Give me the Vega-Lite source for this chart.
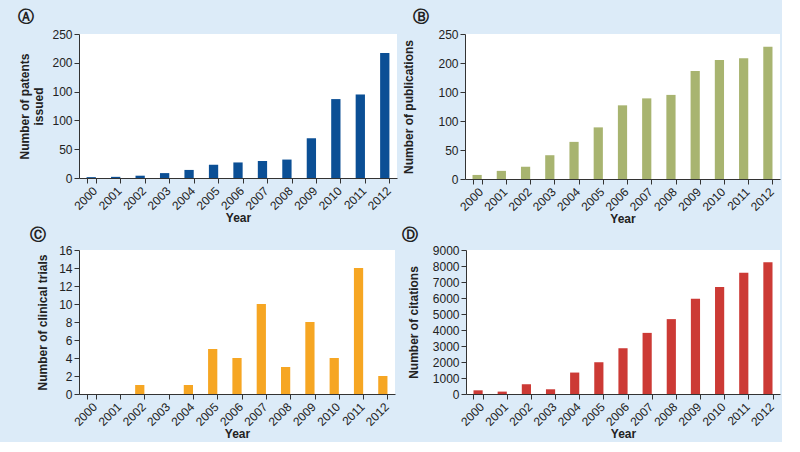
{
  "$schema": "https://vega.github.io/schema/vega-lite/v6.json",
  "background": "#dcebf8",
  "padding": {"left": 18, "top": 9, "right": 2, "bottom": 2},
  "datasets": {
    "patents": [
      {"year": "2000", "value": 1.5}, {"year": "2001", "value": 2}, {"year": "2002", "value": 4},
      {"year": "2003", "value": 8.5}, {"year": "2004", "value": 14}, {"year": "2005", "value": 23},
      {"year": "2006", "value": 27}, {"year": "2007", "value": 29.5}, {"year": "2008", "value": 32},
      {"year": "2009", "value": 69}, {"year": "2010", "value": 137}, {"year": "2011", "value": 145},
      {"year": "2012", "value": 217}
    ],
    "publications": [
      {"year": "2000", "value": 7}, {"year": "2001", "value": 14}, {"year": "2002", "value": 21},
      {"year": "2003", "value": 41}, {"year": "2004", "value": 64}, {"year": "2005", "value": 89},
      {"year": "2006", "value": 127}, {"year": "2007", "value": 139}, {"year": "2008", "value": 145},
      {"year": "2009", "value": 186}, {"year": "2010", "value": 205}, {"year": "2011", "value": 208},
      {"year": "2012", "value": 228}
    ],
    "trials": [
      {"year": "2000", "value": 0}, {"year": "2001", "value": 0}, {"year": "2002", "value": 1},
      {"year": "2003", "value": 0}, {"year": "2004", "value": 1}, {"year": "2005", "value": 5},
      {"year": "2006", "value": 4}, {"year": "2007", "value": 10}, {"year": "2008", "value": 3},
      {"year": "2009", "value": 8}, {"year": "2010", "value": 4}, {"year": "2011", "value": 14},
      {"year": "2012", "value": 2}
    ],
    "citations": [
      {"year": "2000", "value": 230}, {"year": "2001", "value": 150}, {"year": "2002", "value": 610},
      {"year": "2003", "value": 295}, {"year": "2004", "value": 1340}, {"year": "2005", "value": 1985},
      {"year": "2006", "value": 2860}, {"year": "2007", "value": 3820}, {"year": "2008", "value": 4680},
      {"year": "2009", "value": 5950}, {"year": "2010", "value": 6690}, {"year": "2011", "value": 7580},
      {"year": "2012", "value": 8230}
    ]
  },
  "config": {
    "font": "Liberation Sans",
    "view": {"fill": "white", "stroke": null},
    "axis": {
      "labelFont": "Liberation Sans", "labelFontSize": 12, "labelColor": "#222",
      "titleFont": "Liberation Sans", "titleFontSize": 12, "titleFontWeight": "bold", "titleColor": "#222",
      "domainColor": "#333", "tickColor": "#333", "tickSize": 5, "grid": false, "labelPadding": 2
    },
    "axisX": {"labelAngle": -45, "tickBand": "extent", "titlePadding": 1},
    "axisY": {"titlePadding": 6, "titleLineHeight": 14},
    "title": {"anchor": "start", "frame": "group", "fontSize": 16, "fontWeight": "bold", "font": "DejaVu Sans", "color": "#222", "offset": 3}
  },
  "columns": 2,
  "align": "none",
  "spacing": {"row": 2, "column": 5},
  "concat": [
    {
      "title": {"text": "Ⓐ", "dx": -61},
      "data": {"name": "patents"},
      "width": 318, "height": 144,
      "mark": {"type": "bar", "color": "#0b4f95"},
      "encoding": {
        "x": {"field": "year", "type": "ordinal", "title": "Year", "scale": {"paddingInner": 0.62, "paddingOuter": 0.31}},
        "y": {"field": "value", "type": "quantitative", "title": ["Number of patents", "issued"],
              "scale": {"domain": [0, 250]},
              "axis": {"values": [0, 50, 100, 150, 200, 250], "labelExpr": "datum.value == 150 ? '100' : datum.label"}}
      }
    },
    {
      "title": {"text": "Ⓑ", "dx": -52},
      "data": {"name": "publications"},
      "width": 315, "height": 145,
      "mark": {"type": "bar", "color": "#a8b470"},
      "encoding": {
        "x": {"field": "year", "type": "ordinal", "title": "Year", "scale": {"paddingInner": 0.62, "paddingOuter": 0.31}},
        "y": {"field": "value", "type": "quantitative", "title": "Number of publications",
              "scale": {"domain": [0, 250]},
              "axis": {"titlePadding": 22, "values": [0, 50, 100, 150, 200, 250], "labelExpr": "datum.value == 150 ? '100' : datum.label"}}
      }
    },
    {
      "title": {"text": "Ⓒ", "dx": -49, "offset": 1},
      "data": {"name": "trials"},
      "width": 316, "height": 144,
      "mark": {"type": "bar", "color": "#f6a623"},
      "encoding": {
        "x": {"field": "year", "type": "ordinal", "title": "Year", "scale": {"paddingInner": 0.62, "paddingOuter": 0.31}},
        "y": {"field": "value", "type": "quantitative", "title": "Number of clinical trials",
              "scale": {"domain": [0, 16]},
              "axis": {"titlePadding": 9, "values": [0, 2, 4, 6, 8, 10, 12, 14, 16]}}
      }
    },
    {
      "title": {"text": "Ⓓ", "dx": -64, "offset": 1},
      "data": {"name": "citations"},
      "width": 314, "height": 144,
      "mark": {"type": "bar", "color": "#cc3a35"},
      "encoding": {
        "x": {"field": "year", "type": "ordinal", "title": "Year", "scale": {"paddingInner": 0.62, "paddingOuter": 0.31}},
        "y": {"field": "value", "type": "quantitative", "title": "Number of citations",
              "scale": {"domain": [0, 9000]},
              "axis": {"titlePadding": 12, "values": [0, 1000, 2000, 3000, 4000, 5000, 6000, 7000, 8000, 9000], "format": "d"}}
      }
    }
  ]
}
